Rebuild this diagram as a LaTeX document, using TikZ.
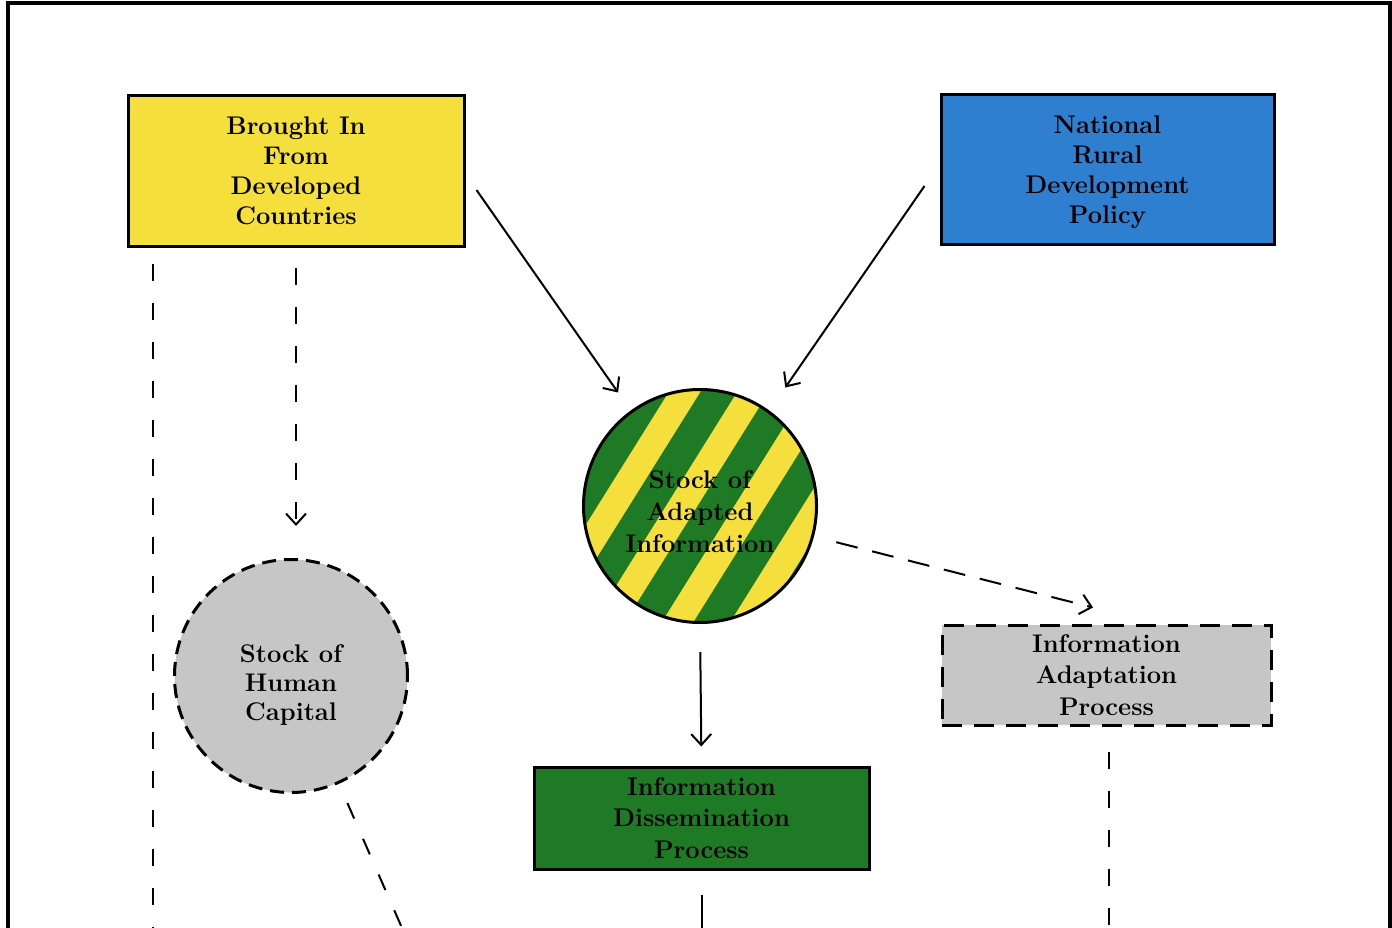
\documentclass[tikz,border=0pt]{standalone}
\usepackage{tikz}
\usetikzlibrary{arrows.meta, positioning, calc, backgrounds}
\definecolor{flyellow}{HTML}{F4DF3C}
\definecolor{flblue}{HTML}{2E7FCF}
\definecolor{flgreen}{HTML}{1F7A26}
\definecolor{flgray}{HTML}{C6C6C6}

\begin{document}
\begin{tikzpicture}[
  x=1pt, y=-1pt,
  every node/.style={font=\fontsize{25.5}{30}\selectfont\bfseries},
  box/.style={rectangle, draw=black, fill=#1, line width=3pt, align=center, inner sep=0pt},
  stock/.style={circle, draw=black, line width=3pt, minimum size=233pt, inner sep=0pt, align=center},
  edge/.style={-{Straight Barb[length=11pt, width=20pt, line width=2pt]}, line width=2pt},
  dashedge/.style={edge, dash pattern=on 17pt off 22pt},
  dashline/.style={line width=2pt, dash pattern=on 17pt off 22pt},
]
\useasboundingbox (0,0) rectangle (1392,928);

% Frame (cut at the bottom)
\draw[line width=3.5pt] (8,928) -- (8,3) -- (1390,3) -- (1390,928);

% Sources
\node[box=flyellow, minimum width=336pt, minimum height=150pt] (brought) at (296,171) {Brought In\\From\\Developed\\Countries};
\node[box=flblue, minimum width=333pt, minimum height=149pt] (policy) at (1107.5,169.5) {\rule{0pt}{23pt}National\\Rural\\Development\\Policy};

% Stocks
\node[stock, font=\fontsize{25.5}{32}\selectfont\bfseries] (adapted) at (700,506) {\rule{0pt}{29pt}Stock of\\Adapted\\Information};
\node[stock, fill=flgray, dash pattern=on 14pt off 8pt, font=\fontsize{25.5}{29}\selectfont\bfseries] (human) at (291,676) {\rule{0pt}{35pt}Stock of\\Human\\Capital};

% Processes
\node[box=flgray, dash pattern=on 20pt off 12pt, minimum width=329pt, minimum height=100pt, font=\fontsize{25.5}{31.5}\selectfont\bfseries] (adapt) at (1106.5,675) {Information\\Adaptation\\Process};
\node[box=flgreen, minimum width=335pt, minimum height=102pt, font=\fontsize{25.5}{31.5}\selectfont\bfseries] (dissem) at (701.5,818) {Information\\Dissemination\\Process};

% Stripes of the adapted stock
\begin{scope}[on background layer]
  \clip (adapted.center) circle (116.5pt);
  \fill[flyellow] (adapted.center) circle (118pt);
  \foreach \k in {-3,...,3}
    \fill[flgreen, shift={(adapted.center)}, rotate=-32] (\k*58-2, -160) rectangle (\k*58+29, 160);
\end{scope}

% Loose ends below the frame
\coordinate (outL) at (153,928);
\coordinate (outH) at (402,928);
\coordinate (outD) at (702,928);
\coordinate (outA) at (1109,928);

% Edges
\draw[edge, shorten >=22pt] ([shift={(11,19)}]brought.east) -- (adapted.126);
\draw[edge, shorten >=28pt] ([shift={(-15,16.5)}]policy.west) -- (adapted.54.5);
\draw[edge, shorten <=28pt, shorten >=19pt] (adapted.south) -- (dissem.north);
\draw[line width=2pt, shorten <=24pt] (outD |- dissem.south) -- (outD);
\draw[dashedge, dash pattern=on 22pt off 15pt, shorten <=23pt] (adapted.-15.5) -- ([shift={(-13.5,-16)}]adapt.north);
\draw[dashedge, shorten <=20pt, shorten >=32pt] (brought.south) -- (brought.south |- human.north);
\draw[dashline, shorten <=16pt] (outL |- brought.south) -- (outL);
\draw[dashline, shorten <=21pt] (human.-66.8) -- (outH);
\draw[dashline, shorten <=25pt] (outA |- adapt.south) -- (outA);

\end{tikzpicture}
\end{document}
